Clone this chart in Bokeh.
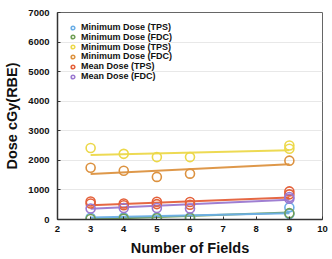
from bokeh.plotting import figure
from bokeh.models import Legend, LegendItem, Range1d, FixedTicker
from bokeh.embed import file_html
from bokeh.resources import INLINE

# ---- data ----
labels = ["Minimum Dose (TPS)", "Minimum Dose (FDC)", "Minimum Dose (TPS)",
          "Minimum Dose (FDC)", "Mean Dose (TPS)", "Mean Dose (FDC)"]
colors = ["#6aaee6", "#6f9e55", "#ecd84a", "#dc9240", "#e4603a", "#9a78d0"]

blue_x = [3, 4, 5, 6, 9, 9]
blue_y = [60, 65, 70, 65, 410, 190]
green_x = [3, 4, 5, 6, 9]
green_y = [15, 30, 40, 50, 215]
yellow_x = [3, 4, 5, 6, 9, 9]
yellow_y = [2420, 2220, 2110, 2110, 2500, 2390]
orange_x = [3, 4, 5, 6, 9]
orange_y = [1750, 1650, 1440, 1550, 1990]
red_x = [3, 3, 4, 4, 5, 5, 6, 6, 9, 9]
red_y = [610, 540, 540, 480, 600, 520, 590, 500, 950, 850]
purple_x = [3, 4, 5, 6, 9, 9]
purple_y = [370, 390, 390, 370, 760, 700]

# trend lines (value at x=3 and x=9)
trend_x = [3, 9]
blue_trend = [70, 215]
green_trend = [5, 235]
yellow_trend = [2180, 2340]
orange_trend = [1540, 1870]
red_trend = [480, 745]
purple_trend = [360, 665]

x_ticks = [2, 3, 4, 5, 6, 7, 8, 9, 10]
y_ticks = [0, 1000, 2000, 3000, 4000, 5000, 6000, 7000]

FONT = "Liberation Sans"

p = figure(width=332, height=259, output_backend="svg", toolbar_location=None,
           x_range=Range1d(2, 10), y_range=Range1d(0, 7000),
           min_border_left=57, min_border_right=10, min_border_top=12,
           min_border_bottom=40)
p.background_fill_color = "white"
p.border_fill_color = "white"
p.outline_line_color = "#666666"
p.outline_line_width = 1

p.xgrid.grid_line_color = None
p.ygrid.grid_line_color = "#e8e8e8"
p.ygrid.grid_line_width = 1

p.xaxis.ticker = FixedTicker(ticks=x_ticks)
p.yaxis.ticker = FixedTicker(ticks=y_ticks)
for ax in (p.xaxis[0], p.yaxis[0]):
    ax.axis_line_color = "#333333"
    ax.axis_line_width = 1.5
    ax.major_tick_in = 3
    ax.major_tick_out = 0
    ax.major_tick_line_color = "#333333"
    ax.minor_tick_line_color = None
    ax.major_label_text_font = FONT
    ax.major_label_text_font_style = "bold"
    ax.major_label_text_font_size = "9.5px"
    ax.major_label_text_color = "#111111"
    ax.axis_label_text_font = FONT
    ax.axis_label_text_font_style = "bold"
    ax.axis_label_text_font_size = "14.5px"
    ax.axis_label_text_color = "#111111"
    ax.axis_label_standoff = 5
p.xaxis.major_label_standoff = 6
p.yaxis.major_label_standoff = 8
p.xaxis.axis_label = "Number of Fields"
p.yaxis.axis_label = "Dose cGy(RBE)"

series = [
    (blue_x, blue_y, blue_trend),
    (green_x, green_y, green_trend),
    (yellow_x, yellow_y, yellow_trend),
    (orange_x, orange_y, orange_trend),
    (red_x, red_y, red_trend),
    (purple_x, purple_y, purple_trend),
]

# trend lines first (reverse order so blue lies above green)
for (xs, ys, tr), c in reversed(list(zip(series, colors))):
    p.line(trend_x, tr, line_color=c, line_width=2, line_alpha=0.95)

# legend layout: one single-row legend per entry for tight row spacing
LEG_X = 11          # px from frame left
FIRST_ROW = 14.7    # px from frame top to first row centre
ROW_STEP = 9.8      # px between rows
ROW_HALF = 5.3      # half the measured row height
FRAME_H = 207

for i, ((xs, ys, tr), c, lab) in enumerate(zip(series, colors, labels)):
    r = p.scatter(xs, ys, marker="circle", size=9, fill_color=None,
                  line_color=c, line_width=1.6)
    vy = FRAME_H - (FIRST_ROW + i * ROW_STEP) - ROW_HALF
    lg = Legend(items=[LegendItem(label=lab, renderers=[r])],
                location=(LEG_X, vy), margin=0, padding=0,
                spacing=0, glyph_width=9, glyph_height=9, label_height=9,
                label_standoff=4, background_fill_alpha=0,
                border_line_color=None,
                label_text_font=FONT, label_text_font_style="bold",
                label_text_font_size="9px", label_text_color="#111111")
    p.add_layout(lg, "center")

open("out.html", "w").write(file_html(p, INLINE))
